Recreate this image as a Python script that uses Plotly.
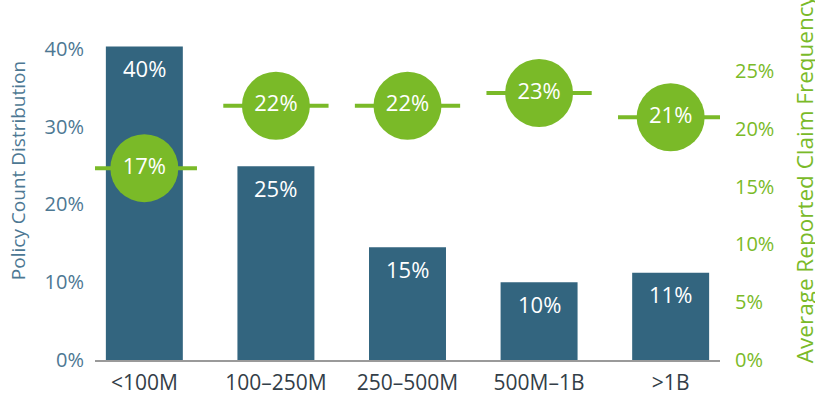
import plotly.graph_objects as go

categories = ["<100M", "100–250M", "250–500M", "500M–1B", ">1B"]
policy_share = [40.3, 24.9, 14.5, 10.0, 11.2]
policy_labels = ["40%", "25%", "15%", "10%", "11%"]
claim_freq = [16.6, 22.0, 22.0, 23.1, 21.0]
claim_labels = ["17%", "22%", "22%", "23%", "21%"]
left_ticks = [0, 10, 20, 30, 40]
right_ticks = [0, 5, 10, 15, 20, 25]

BAR = "#33657f"
GREEN = "#7aba28"
BLUE_TXT = "#4d7893"
FONT = "Open Sans"

xpos = list(range(len(categories)))

fig = go.Figure()
fig.add_trace(go.Bar(
    x=xpos, y=policy_share, marker=dict(color=BAR, line=dict(width=0)),
    width=0.585, yaxis="y", hoverinfo="skip",
))
fig.add_trace(go.Scatter(
    x=xpos, y=claim_freq, yaxis="y2", mode="markers+text",
    marker=dict(size=68, color=GREEN, line=dict(width=0)),
    text=claim_labels, textposition="middle center",
    textfont=dict(family=FONT, size=22, color="white"),
    error_x=dict(type="constant", value=0.4, thickness=4, width=0, color=GREEN),
    cliponaxis=False, hoverinfo="skip",
))

annotations = []
for i, v, lab in zip(xpos, policy_share, policy_labels):
    annotations.append(dict(x=i, y=v, xref="x", yref="y", text=lab, showarrow=False,
                            yanchor="middle", yshift=-21.5,
                            font=dict(family=FONT, size=22, color="white")))
annotations.append(dict(x=0, xref="paper", xshift=-77, xanchor="center",
                        y=0.592, yref="paper", yanchor="middle",
                        text="Policy Count Distribution", textangle=-90, showarrow=False,
                        font=dict(family=FONT, size=19, color=BLUE_TXT)))
annotations.append(dict(x=1, xref="paper", xshift=84, xanchor="center",
                        y=0.567, yref="paper", yanchor="middle",
                        text="Average Reported Claim Frequency", textangle=-90, showarrow=False,
                        font=dict(family=FONT, size=22.5, color=GREEN)))

fig.update_layout(
    width=815, height=395,
    margin=dict(l=95, r=95, t=41, b=35, autoexpand=False),
    paper_bgcolor="white", plot_bgcolor="white",
    showlegend=False,
    font=dict(family=FONT),
    xaxis=dict(range=[-0.375, 4.375], tickvals=xpos, ticktext=categories,
               showgrid=False, zeroline=False, ticks="", automargin=False,
               showline=True, linecolor="#9a9a9a", linewidth=1.5, ticklabelstandoff=3,
               tickfont=dict(family=FONT, size=21, color="#333e48")),
    yaxis=dict(range=[0, 41], tickvals=left_ticks, ticktext=[f"{t}%" for t in left_ticks],
               showgrid=False, zeroline=False, ticks="", ticklabelstandoff=10,
               automargin=False,
               tickfont=dict(family=FONT, size=20, color=BLUE_TXT)),
    yaxis2=dict(range=[0, 27.6], overlaying="y", side="right", tickvals=right_ticks,
                ticktext=[f"{t}%" for t in right_ticks], showgrid=False, zeroline=False,
                ticks="", ticklabelstandoff=14, automargin=False,
                tickfont=dict(family=FONT, size=20, color=GREEN)),
    annotations=annotations,
)

fig.write_html("out.html")
